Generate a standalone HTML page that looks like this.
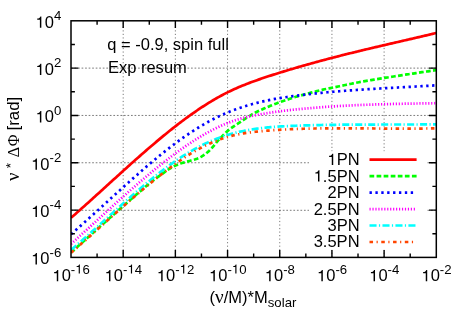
<!DOCTYPE html>
<html><head><meta charset="utf-8"><title>plot</title>
<style>html,body{margin:0;padding:0;background:#fff;overflow:hidden}body{width:466px;height:327px;position:relative;font-family:"Liberation Sans",sans-serif}</style>
</head><body>
<svg width="466" height="327" viewBox="0 0 466 327" style="position:absolute;left:0;top:0;will-change:transform">
<rect width="466" height="327" fill="#fff"/>
<path d="M123.19,257.4 V20.8 M175.37,257.4 V20.8 M227.56,257.4 V20.8 M279.74,257.4 V20.8 M331.93,257.4 V20.8 M384.11,257.4 V20.8" stroke="#222" stroke-width="0.6" stroke-dasharray="1.2 2.33" fill="none"/>
<path d="M71.0,210.30 H436.3 M71.0,162.76 H436.3 M71.0,115.44 H436.3 M71.0,68.12 H436.3" stroke="#222" stroke-width="0.6" stroke-dasharray="1.7 1.83" fill="none"/>
<clipPath id="cp"><rect x="71.0" y="20.8" width="365.3" height="236.59999999999997"/></clipPath>
<g clip-path="url(#cp)" fill="none" stroke-width="2.7">
<path d="M71.00,217.83 L72.50,216.52 L74.00,215.21 L75.50,213.89 L77.00,212.57 L78.50,211.25 L80.00,209.92 L81.50,208.59 L83.00,207.25 L84.50,205.91 L86.00,204.57 L87.50,203.23 L89.00,201.88 L90.50,200.53 L92.00,199.18 L93.50,197.82 L95.00,196.47 L96.50,195.11 L98.00,193.75 L99.50,192.39 L101.00,191.03 L102.50,189.66 L104.00,188.30 L105.50,186.94 L107.00,185.57 L108.50,184.21 L110.00,182.84 L111.50,181.48 L113.00,180.12 L114.50,178.75 L116.00,177.39 L117.50,176.03 L119.00,174.67 L120.50,173.31 L122.00,171.95 L123.50,170.60 L125.00,169.25 L126.50,167.90 L128.00,166.55 L129.50,165.20 L131.00,163.86 L132.50,162.52 L134.00,161.18 L135.50,159.85 L137.00,158.52 L138.50,157.19 L140.00,155.87 L141.50,154.55 L143.00,153.24 L144.50,151.93 L146.00,150.63 L147.50,149.33 L149.00,148.03 L150.50,146.74 L152.00,145.46 L153.50,144.18 L155.00,142.91 L156.50,141.64 L158.00,140.39 L159.50,139.13 L161.00,137.89 L162.50,136.65 L164.00,135.41 L165.50,134.19 L167.00,132.97 L168.50,131.76 L170.00,130.56 L171.50,129.37 L173.00,128.18 L174.50,127.00 L176.00,125.84 L177.50,124.68 L179.00,123.53 L180.50,122.38 L182.00,121.25 L183.50,120.13 L185.00,119.02 L186.50,117.91 L188.00,116.82 L189.50,115.74 L191.00,114.67 L192.50,113.61 L194.00,112.56 L195.50,111.52 L197.00,110.49 L198.50,109.48 L200.00,108.47 L201.50,107.48 L203.00,106.50 L204.50,105.54 L206.00,104.58 L207.50,103.64 L209.00,102.71 L210.50,101.79 L212.00,100.89 L213.50,100.00 L215.00,99.13 L216.50,98.27 L218.00,97.42 L219.50,96.59 L221.00,95.77 L222.50,94.96 L224.00,94.17 L225.50,93.40 L227.00,92.64 L228.50,91.90 L230.00,91.17 L231.50,90.46 L233.00,89.76 L234.50,89.07 L236.00,88.40 L237.50,87.74 L239.00,87.10 L240.50,86.46 L242.00,85.84 L243.50,85.23 L245.00,84.63 L246.50,84.04 L248.00,83.45 L249.50,82.88 L251.00,82.32 L252.50,81.76 L254.00,81.22 L255.50,80.68 L257.00,80.15 L258.50,79.62 L260.00,79.10 L261.50,78.59 L263.00,78.08 L264.50,77.57 L266.00,77.08 L267.50,76.58 L269.00,76.09 L270.50,75.61 L272.00,75.13 L273.50,74.65 L275.00,74.17 L276.50,73.70 L278.00,73.23 L279.50,72.77 L281.00,72.30 L282.50,71.84 L284.00,71.38 L285.50,70.93 L287.00,70.47 L288.50,70.02 L290.00,69.57 L291.50,69.12 L293.00,68.68 L294.50,68.24 L296.00,67.80 L297.50,67.36 L299.00,66.92 L300.50,66.49 L302.00,66.06 L303.50,65.63 L305.00,65.20 L306.50,64.78 L308.00,64.35 L309.50,63.93 L311.00,63.51 L312.50,63.10 L314.00,62.68 L315.50,62.27 L317.00,61.86 L318.50,61.45 L320.00,61.04 L321.50,60.64 L323.00,60.24 L324.50,59.84 L326.00,59.44 L327.50,59.04 L329.00,58.65 L330.50,58.25 L332.00,57.86 L333.50,57.47 L335.00,57.09 L336.50,56.70 L338.00,56.32 L339.50,55.94 L341.00,55.56 L342.50,55.18 L344.00,54.80 L345.50,54.43 L347.00,54.05 L348.50,53.68 L350.00,53.31 L351.50,52.94 L353.00,52.57 L354.50,52.20 L356.00,51.84 L357.50,51.47 L359.00,51.11 L360.50,50.75 L362.00,50.39 L363.50,50.03 L365.00,49.67 L366.50,49.31 L368.00,48.95 L369.50,48.60 L371.00,48.24 L372.50,47.89 L374.00,47.54 L375.50,47.18 L377.00,46.83 L378.50,46.48 L380.00,46.13 L381.50,45.78 L383.00,45.43 L384.50,45.08 L386.00,44.73 L387.50,44.38 L389.00,44.03 L390.50,43.68 L392.00,43.34 L393.50,42.99 L395.00,42.64 L396.50,42.29 L398.00,41.95 L399.50,41.60 L401.00,41.25 L402.50,40.91 L404.00,40.56 L405.50,40.21 L407.00,39.86 L408.50,39.52 L410.00,39.17 L411.50,38.82 L413.00,38.47 L414.50,38.12 L416.00,37.77 L417.50,37.42 L419.00,37.07 L420.50,36.72 L422.00,36.37 L423.50,36.02 L425.00,35.67 L426.50,35.32 L428.00,34.96 L429.50,34.61 L431.00,34.25 L432.50,33.89 L434.00,33.54 L436.30,32.99" stroke="#ff0000"/>
<path d="M71.00,252.60 L72.50,251.24 L74.00,249.88 L75.50,248.52 L77.00,247.17 L78.50,245.81 L80.00,244.46 L81.50,243.11 L83.00,241.76 L84.50,240.41 L86.00,239.07 L87.50,237.72 L89.00,236.38 L90.50,235.04 L92.00,233.70 L93.50,232.36 L95.00,231.02 L96.50,229.68 L98.00,228.35 L99.50,227.01 L101.00,225.68 L102.50,224.35 L104.00,223.02 L105.50,221.69 L107.00,220.36 L108.50,219.04 L110.00,217.71 L111.50,216.39 L113.00,215.07 L114.50,213.75 L116.00,212.42 L117.50,211.11 L119.00,209.79 L120.50,208.47 L122.00,207.15 L123.50,205.84 L125.00,204.52 L126.50,203.20 L128.00,201.88 L129.50,200.56 L131.00,199.24 L132.50,197.92 L134.00,196.61 L135.50,195.30 L137.00,193.99 L138.50,192.70 L140.00,191.40 L141.50,190.12 L143.00,188.85 L144.50,187.58 L146.00,186.33 L147.50,185.09 L149.00,183.85 L150.50,182.63 L152.00,181.42 L153.50,180.24 L155.00,179.08 L156.50,177.95 L158.00,176.87 L159.50,175.80 L161.00,174.75 L162.50,173.69 L164.00,172.63 L165.50,171.53 L167.00,170.44 L168.50,169.40 L170.00,168.46 L171.50,167.59 L173.00,166.77 L174.50,166.02 L176.00,165.34 L177.50,164.70 L179.00,164.12 L180.50,163.57 L182.00,163.06 L183.50,162.59 L185.00,162.17 L186.50,161.78 L188.00,161.40 L189.50,161.00 L191.00,160.57 L192.50,160.15 L194.00,159.70 L195.50,159.20 L197.00,158.65 L198.50,158.04 L200.00,157.36 L201.50,156.60 L203.00,155.71 L204.50,154.67 L206.00,153.53 L207.50,152.30 L209.00,150.95 L210.50,149.46 L212.00,147.86 L213.50,146.15 L215.00,144.27 L216.50,142.39 L218.00,140.67 L219.50,139.03 L221.00,137.44 L222.50,135.89 L224.00,134.35 L225.50,132.84 L227.00,131.44 L228.50,130.17 L230.00,129.00 L231.50,127.91 L233.00,126.85 L234.50,125.86 L236.00,124.90 L237.50,123.95 L239.00,122.97 L240.50,121.97 L242.00,120.96 L243.50,119.97 L245.00,118.97 L246.50,117.97 L248.00,116.98 L249.50,116.02 L251.00,115.10 L252.50,114.21 L254.00,113.35 L255.50,112.52 L257.00,111.75 L258.50,111.02 L260.00,110.32 L261.50,109.65 L263.00,108.98 L264.50,108.31 L266.00,107.66 L267.50,107.02 L269.00,106.39 L270.50,105.79 L272.00,105.19 L273.50,104.60 L275.00,104.02 L276.50,103.43 L278.00,102.84 L279.50,102.27 L281.00,101.75 L282.50,101.24 L284.00,100.76 L285.50,100.28 L287.00,99.80 L288.50,99.30 L290.00,98.78 L291.50,98.26 L293.00,97.74 L294.50,97.25 L296.00,96.80 L297.50,96.38 L299.00,95.97 L300.50,95.57 L302.00,95.17 L303.50,94.75 L305.00,94.32 L306.50,93.89 L308.00,93.46 L309.50,93.06 L311.00,92.66 L312.50,92.27 L314.00,91.88 L315.50,91.50 L317.00,91.11 L318.50,90.73 L320.00,90.35 L321.50,89.98 L323.00,89.63 L324.50,89.30 L326.00,88.99 L327.50,88.68 L329.00,88.38 L330.50,88.08 L332.00,87.78 L333.50,87.47 L335.00,87.16 L336.50,86.85 L338.00,86.53 L339.50,86.22 L341.00,85.90 L342.50,85.59 L344.00,85.27 L345.50,84.96 L347.00,84.65 L348.50,84.34 L350.00,84.03 L351.50,83.72 L353.00,83.41 L354.50,83.11 L356.00,82.81 L357.50,82.52 L359.00,82.23 L360.50,81.95 L362.00,81.66 L363.50,81.39 L365.00,81.12 L366.50,80.86 L368.00,80.60 L369.50,80.35 L371.00,80.10 L372.50,79.85 L374.00,79.61 L375.50,79.37 L377.00,79.13 L378.50,78.89 L380.00,78.65 L381.50,78.41 L383.00,78.18 L384.50,77.94 L386.00,77.70 L387.50,77.46 L389.00,77.22 L390.50,76.99 L392.00,76.75 L393.50,76.52 L395.00,76.28 L396.50,76.05 L398.00,75.82 L399.50,75.59 L401.00,75.36 L402.50,75.13 L404.00,74.90 L405.50,74.67 L407.00,74.44 L408.50,74.22 L410.00,73.99 L411.50,73.76 L413.00,73.54 L414.50,73.31 L416.00,73.09 L417.50,72.86 L419.00,72.64 L420.50,72.41 L422.00,72.19 L423.50,71.97 L425.00,71.75 L426.50,71.53 L428.00,71.31 L429.50,71.09 L431.00,70.87 L432.50,70.65 L434.00,70.43 L436.30,70.10" stroke="#00ff00" stroke-dasharray="4.71 2.36"/>
<path d="M71.00,234.26 L72.50,232.96 L74.00,231.65 L75.50,230.34 L77.00,229.02 L78.50,227.70 L80.00,226.37 L81.50,225.04 L83.00,223.70 L84.50,222.36 L86.00,221.02 L87.50,219.67 L89.00,218.32 L90.50,216.97 L92.00,215.61 L93.50,214.26 L95.00,212.90 L96.50,211.53 L98.00,210.17 L99.50,208.80 L101.00,207.44 L102.50,206.07 L104.00,204.70 L105.50,203.33 L107.00,201.96 L108.50,200.59 L110.00,199.23 L111.50,197.86 L113.00,196.49 L114.50,195.12 L116.00,193.76 L117.50,192.39 L119.00,191.03 L120.50,189.67 L122.00,188.31 L123.50,186.95 L125.00,185.60 L126.50,184.25 L128.00,182.90 L129.50,181.56 L131.00,180.22 L132.50,178.88 L134.00,177.55 L135.50,176.22 L137.00,174.90 L138.50,173.58 L140.00,172.26 L141.50,170.95 L143.00,169.65 L144.50,168.35 L146.00,167.06 L147.50,165.77 L149.00,164.50 L150.50,163.22 L152.00,161.96 L153.50,160.70 L155.00,159.45 L156.50,158.21 L158.00,156.97 L159.50,155.74 L161.00,154.53 L162.50,153.32 L164.00,152.12 L165.50,150.92 L167.00,149.74 L168.50,148.57 L170.00,147.40 L171.50,146.25 L173.00,145.11 L174.50,143.98 L176.00,142.86 L177.50,141.75 L179.00,140.65 L180.50,139.56 L182.00,138.48 L183.50,137.42 L185.00,136.37 L186.50,135.33 L188.00,134.30 L189.50,133.29 L191.00,132.29 L192.50,131.30 L194.00,130.33 L195.50,129.37 L197.00,128.43 L198.50,127.50 L200.00,126.58 L201.50,125.68 L203.00,124.79 L204.50,123.92 L206.00,123.07 L207.50,122.23 L209.00,121.41 L210.50,120.60 L212.00,119.81 L213.50,119.04 L215.00,118.28 L216.50,117.54 L218.00,116.81 L219.50,116.10 L221.00,115.41 L222.50,114.73 L224.00,114.06 L225.50,113.41 L227.00,112.78 L228.50,112.15 L230.00,111.55 L231.50,110.95 L233.00,110.38 L234.50,109.81 L236.00,109.26 L237.50,108.72 L239.00,108.19 L240.50,107.68 L242.00,107.18 L243.50,106.69 L245.00,106.22 L246.50,105.75 L248.00,105.30 L249.50,104.86 L251.00,104.43 L252.50,104.01 L254.00,103.61 L255.50,103.21 L257.00,102.83 L258.50,102.45 L260.00,102.09 L261.50,101.74 L263.00,101.39 L264.50,101.06 L266.00,100.73 L267.50,100.41 L269.00,100.10 L270.50,99.80 L272.00,99.51 L273.50,99.23 L275.00,98.95 L276.50,98.68 L278.00,98.42 L279.50,98.16 L281.00,97.92 L282.50,97.67 L284.00,97.44 L285.50,97.21 L287.00,96.98 L288.50,96.76 L290.00,96.55 L291.50,96.34 L293.00,96.13 L294.50,95.93 L296.00,95.73 L297.50,95.54 L299.00,95.35 L300.50,95.16 L302.00,94.98 L303.50,94.80 L305.00,94.62 L306.50,94.44 L308.00,94.27 L309.50,94.10 L311.00,93.93 L312.50,93.77 L314.00,93.61 L315.50,93.45 L317.00,93.30 L318.50,93.14 L320.00,92.99 L321.50,92.84 L323.00,92.70 L324.50,92.55 L326.00,92.41 L327.50,92.27 L329.00,92.14 L330.50,92.00 L332.00,91.87 L333.50,91.74 L335.00,91.61 L336.50,91.49 L338.00,91.36 L339.50,91.24 L341.00,91.12 L342.50,91.00 L344.00,90.88 L345.50,90.77 L347.00,90.65 L348.50,90.54 L350.00,90.43 L351.50,90.32 L353.00,90.22 L354.50,90.11 L356.00,90.01 L357.50,89.91 L359.00,89.80 L360.50,89.70 L362.00,89.61 L363.50,89.51 L365.00,89.41 L366.50,89.32 L368.00,89.22 L369.50,89.13 L371.00,89.04 L372.50,88.95 L374.00,88.86 L375.50,88.77 L377.00,88.68 L378.50,88.59 L380.00,88.50 L381.50,88.42 L383.00,88.33 L384.50,88.24 L386.00,88.16 L387.50,88.08 L389.00,87.99 L390.50,87.91 L392.00,87.82 L393.50,87.74 L395.00,87.66 L396.50,87.58 L398.00,87.50 L399.50,87.41 L401.00,87.33 L402.50,87.25 L404.00,87.17 L405.50,87.09 L407.00,87.00 L408.50,86.92 L410.00,86.84 L411.50,86.76 L413.00,86.67 L414.50,86.59 L416.00,86.51 L417.50,86.42 L419.00,86.34 L420.50,86.25 L422.00,86.17 L423.50,86.08 L425.00,86.00 L426.50,85.91 L428.00,85.82 L429.50,85.73 L431.00,85.64 L432.50,85.55 L434.00,85.46 L436.30,85.32" stroke="#0000ff" stroke-dasharray="2.36 3.53"/>
<path d="M71.00,244.01 L72.50,242.66 L74.00,241.31 L75.50,239.95 L77.00,238.59 L78.50,237.23 L80.00,235.87 L81.50,234.51 L83.00,233.14 L84.50,231.77 L86.00,230.41 L87.50,229.04 L89.00,227.67 L90.50,226.30 L92.00,224.93 L93.50,223.55 L95.00,222.18 L96.50,220.81 L98.00,219.44 L99.50,218.07 L101.00,216.70 L102.50,215.33 L104.00,213.96 L105.50,212.60 L107.00,211.23 L108.50,209.87 L110.00,208.51 L111.50,207.15 L113.00,205.79 L114.50,204.43 L116.00,203.08 L117.50,201.73 L119.00,200.38 L120.50,199.04 L122.00,197.69 L123.50,196.36 L125.00,195.02 L126.50,193.69 L128.00,192.36 L129.50,191.04 L131.00,189.72 L132.50,188.40 L134.00,187.09 L135.50,185.79 L137.00,184.49 L138.50,183.19 L140.00,181.90 L141.50,180.62 L143.00,179.34 L144.50,178.07 L146.00,176.80 L147.50,175.54 L149.00,174.29 L150.50,173.04 L152.00,171.80 L153.50,170.57 L155.00,169.34 L156.50,168.12 L158.00,166.91 L159.50,165.71 L161.00,164.51 L162.50,163.32 L164.00,162.14 L165.50,160.97 L167.00,159.81 L168.50,158.65 L170.00,157.51 L171.50,156.37 L173.00,155.25 L174.50,154.13 L176.00,153.02 L177.50,151.93 L179.00,150.84 L180.50,149.77 L182.00,148.71 L183.50,147.65 L185.00,146.61 L186.50,145.59 L188.00,144.57 L189.50,143.57 L191.00,142.58 L192.50,141.60 L194.00,140.63 L195.50,139.68 L197.00,138.75 L198.50,137.82 L200.00,136.91 L201.50,136.02 L203.00,135.14 L204.50,134.27 L206.00,133.42 L207.50,132.59 L209.00,131.77 L210.50,130.97 L212.00,130.18 L213.50,129.42 L215.00,128.66 L216.50,127.93 L218.00,127.21 L219.50,126.51 L221.00,125.83 L222.50,125.16 L224.00,124.51 L225.50,123.89 L227.00,123.28 L228.50,122.69 L230.00,122.12 L231.50,121.56 L233.00,121.03 L234.50,120.52 L236.00,120.03 L237.50,119.56 L239.00,119.11 L240.50,118.67 L242.00,118.26 L243.50,117.86 L245.00,117.48 L246.50,117.12 L248.00,116.76 L249.50,116.43 L251.00,116.10 L252.50,115.78 L254.00,115.48 L255.50,115.18 L257.00,114.89 L258.50,114.61 L260.00,114.33 L261.50,114.07 L263.00,113.81 L264.50,113.55 L266.00,113.30 L267.50,113.06 L269.00,112.83 L270.50,112.60 L272.00,112.37 L273.50,112.15 L275.00,111.94 L276.50,111.73 L278.00,111.53 L279.50,111.33 L281.00,111.14 L282.50,110.95 L284.00,110.77 L285.50,110.59 L287.00,110.41 L288.50,110.24 L290.00,110.07 L291.50,109.91 L293.00,109.75 L294.50,109.59 L296.00,109.44 L297.50,109.29 L299.00,109.14 L300.50,108.99 L302.00,108.85 L303.50,108.71 L305.00,108.57 L306.50,108.44 L308.00,108.31 L309.50,108.18 L311.00,108.05 L312.50,107.92 L314.00,107.80 L315.50,107.68 L317.00,107.56 L318.50,107.44 L320.00,107.33 L321.50,107.22 L323.00,107.11 L324.50,107.00 L326.00,106.90 L327.50,106.79 L329.00,106.69 L330.50,106.59 L332.00,106.50 L333.50,106.40 L335.00,106.31 L336.50,106.22 L338.00,106.13 L339.50,106.04 L341.00,105.96 L342.50,105.87 L344.00,105.79 L345.50,105.71 L347.00,105.64 L348.50,105.56 L350.00,105.49 L351.50,105.41 L353.00,105.34 L354.50,105.27 L356.00,105.21 L357.50,105.14 L359.00,105.07 L360.50,105.01 L362.00,104.95 L363.50,104.89 L365.00,104.83 L366.50,104.77 L368.00,104.72 L369.50,104.66 L371.00,104.61 L372.50,104.56 L374.00,104.51 L375.50,104.46 L377.00,104.41 L378.50,104.36 L380.00,104.32 L381.50,104.27 L383.00,104.23 L384.50,104.19 L386.00,104.15 L387.50,104.11 L389.00,104.07 L390.50,104.03 L392.00,103.99 L393.50,103.96 L395.00,103.92 L396.50,103.89 L398.00,103.86 L399.50,103.82 L401.00,103.79 L402.50,103.76 L404.00,103.73 L405.50,103.70 L407.00,103.67 L408.50,103.64 L410.00,103.62 L411.50,103.59 L413.00,103.56 L414.50,103.54 L416.00,103.51 L417.50,103.49 L419.00,103.46 L420.50,103.44 L422.00,103.42 L423.50,103.39 L425.00,103.37 L426.50,103.35 L428.00,103.33 L429.50,103.31 L431.00,103.28 L432.50,103.26 L434.00,103.24 L436.30,103.21" stroke="#ff00ff" stroke-dasharray="1.18 1.77"/>
<path d="M71.00,250.00 L72.50,248.72 L74.00,247.44 L75.50,246.15 L77.00,244.86 L78.50,243.56 L80.00,242.25 L81.50,240.94 L83.00,239.62 L84.50,238.30 L86.00,236.97 L87.50,235.64 L89.00,234.31 L90.50,232.97 L92.00,231.63 L93.50,230.28 L95.00,228.93 L96.50,227.58 L98.00,226.23 L99.50,224.88 L101.00,223.52 L102.50,222.16 L104.00,220.81 L105.50,219.45 L107.00,218.09 L108.50,216.73 L110.00,215.37 L111.50,214.01 L113.00,212.66 L114.50,211.30 L116.00,209.95 L117.50,208.60 L119.00,207.25 L120.50,205.90 L122.00,204.56 L123.50,203.21 L125.00,201.88 L126.50,200.54 L128.00,199.21 L129.50,197.89 L131.00,196.57 L132.50,195.25 L134.00,193.94 L135.50,192.64 L137.00,191.34 L138.50,190.05 L140.00,188.76 L141.50,187.48 L143.00,186.21 L144.50,184.95 L146.00,183.69 L147.50,182.44 L149.00,181.20 L150.50,179.97 L152.00,178.75 L153.50,177.54 L155.00,176.34 L156.50,175.15 L158.00,173.96 L159.50,172.79 L161.00,171.63 L162.50,170.48 L164.00,169.35 L165.50,168.22 L167.00,167.11 L168.50,166.01 L170.00,164.92 L171.50,163.84 L173.00,162.78 L174.50,161.73 L176.00,160.70 L177.50,159.68 L179.00,158.68 L180.50,157.69 L182.00,156.71 L183.50,155.75 L185.00,154.81 L186.50,153.88 L188.00,152.97 L189.50,152.07 L191.00,151.19 L192.50,150.32 L194.00,149.47 L195.50,148.64 L197.00,147.83 L198.50,147.03 L200.00,146.25 L201.50,145.49 L203.00,144.74 L204.50,144.01 L206.00,143.31 L207.50,142.61 L209.00,141.94 L210.50,141.28 L212.00,140.64 L213.50,140.02 L215.00,139.41 L216.50,138.82 L218.00,138.25 L219.50,137.69 L221.00,137.15 L222.50,136.63 L224.00,136.13 L225.50,135.64 L227.00,135.16 L228.50,134.71 L230.00,134.26 L231.50,133.84 L233.00,133.43 L234.50,133.03 L236.00,132.65 L237.50,132.28 L239.00,131.93 L240.50,131.59 L242.00,131.26 L243.50,130.95 L245.00,130.65 L246.50,130.36 L248.00,130.09 L249.50,129.82 L251.00,129.57 L252.50,129.33 L254.00,129.10 L255.50,128.88 L257.00,128.67 L258.50,128.47 L260.00,128.28 L261.50,128.09 L263.00,127.92 L264.50,127.76 L266.00,127.60 L267.50,127.45 L269.00,127.31 L270.50,127.18 L272.00,127.05 L273.50,126.94 L275.00,126.82 L276.50,126.72 L278.00,126.61 L279.50,126.52 L281.00,126.43 L282.50,126.34 L284.00,126.26 L285.50,126.18 L287.00,126.11 L288.50,126.04 L290.00,125.97 L291.50,125.91 L293.00,125.85 L294.50,125.79 L296.00,125.73 L297.50,125.67 L299.00,125.62 L300.50,125.57 L302.00,125.52 L303.50,125.47 L305.00,125.42 L306.50,125.38 L308.00,125.33 L309.50,125.29 L311.00,125.25 L312.50,125.21 L314.00,125.17 L315.50,125.13 L317.00,125.10 L318.50,125.07 L320.00,125.03 L321.50,125.00 L323.00,124.97 L324.50,124.94 L326.00,124.92 L327.50,124.89 L329.00,124.87 L330.50,124.84 L332.00,124.82 L333.50,124.80 L335.00,124.78 L336.50,124.76 L338.00,124.74 L339.50,124.72 L341.00,124.71 L342.50,124.69 L344.00,124.68 L345.50,124.66 L347.00,124.65 L348.50,124.64 L350.00,124.63 L351.50,124.62 L353.00,124.61 L354.50,124.60 L356.00,124.59 L357.50,124.58 L359.00,124.57 L360.50,124.57 L362.00,124.56 L363.50,124.56 L365.00,124.55 L366.50,124.55 L368.00,124.54 L369.50,124.54 L371.00,124.54 L372.50,124.53 L374.00,124.53 L375.50,124.53 L377.00,124.53 L378.50,124.53 L380.00,124.52 L381.50,124.52 L383.00,124.52 L384.50,124.52 L386.00,124.52 L387.50,124.52 L389.00,124.52 L390.50,124.52 L392.00,124.52 L393.50,124.52 L395.00,124.52 L396.50,124.52 L398.00,124.52 L399.50,124.51 L401.00,124.51 L402.50,124.51 L404.00,124.51 L405.50,124.51 L407.00,124.51 L408.50,124.50 L410.00,124.50 L411.50,124.50 L413.00,124.49 L414.50,124.49 L416.00,124.49 L417.50,124.48 L419.00,124.48 L420.50,124.47 L422.00,124.46 L423.50,124.46 L425.00,124.45 L426.50,124.44 L428.00,124.43 L429.50,124.42 L431.00,124.41 L432.50,124.40 L434.00,124.39 L436.30,124.37" stroke="#00ffff" stroke-dasharray="7.07 2.36 1.18 2.36"/>
<path d="M71.00,252.79 L72.50,251.49 L74.00,250.18 L75.50,248.88 L77.00,247.57 L78.50,246.25 L80.00,244.93 L81.50,243.61 L83.00,242.29 L84.50,240.96 L86.00,239.63 L87.50,238.30 L89.00,236.96 L90.50,235.63 L92.00,234.29 L93.50,232.95 L95.00,231.61 L96.50,230.27 L98.00,228.92 L99.50,227.58 L101.00,226.23 L102.50,224.89 L104.00,223.55 L105.50,222.20 L107.00,220.86 L108.50,219.52 L110.00,218.17 L111.50,216.83 L113.00,215.49 L114.50,214.16 L116.00,212.82 L117.50,211.49 L119.00,210.15 L120.50,208.82 L122.00,207.50 L123.50,206.17 L125.00,204.85 L126.50,203.54 L128.00,202.22 L129.50,200.91 L131.00,199.60 L132.50,198.30 L134.00,197.00 L135.50,195.71 L137.00,194.42 L138.50,193.14 L140.00,191.86 L141.50,190.59 L143.00,189.32 L144.50,188.06 L146.00,186.81 L147.50,185.56 L149.00,184.32 L150.50,183.08 L152.00,181.85 L153.50,180.63 L155.00,179.42 L156.50,178.22 L158.00,177.02 L159.50,175.83 L161.00,174.65 L162.50,173.48 L164.00,172.31 L165.50,171.16 L167.00,170.01 L168.50,168.88 L170.00,167.75 L171.50,166.64 L173.00,165.54 L174.50,164.46 L176.00,163.38 L177.50,162.32 L179.00,161.27 L180.50,160.24 L182.00,159.23 L183.50,158.23 L185.00,157.24 L186.50,156.28 L188.00,155.32 L189.50,154.39 L191.00,153.47 L192.50,152.57 L194.00,151.69 L195.50,150.83 L197.00,149.98 L198.50,149.15 L200.00,148.34 L201.50,147.54 L203.00,146.77 L204.50,146.02 L206.00,145.28 L207.50,144.56 L209.00,143.87 L210.50,143.19 L212.00,142.53 L213.50,141.89 L215.00,141.28 L216.50,140.68 L218.00,140.10 L219.50,139.55 L221.00,139.02 L222.50,138.50 L224.00,138.01 L225.50,137.55 L227.00,137.10 L228.50,136.67 L230.00,136.26 L231.50,135.88 L233.00,135.51 L234.50,135.15 L236.00,134.82 L237.50,134.50 L239.00,134.20 L240.50,133.91 L242.00,133.64 L243.50,133.39 L245.00,133.14 L246.50,132.91 L248.00,132.69 L249.50,132.48 L251.00,132.29 L252.50,132.10 L254.00,131.92 L255.50,131.75 L257.00,131.59 L258.50,131.44 L260.00,131.29 L261.50,131.15 L263.00,131.02 L264.50,130.89 L266.00,130.77 L267.50,130.65 L269.00,130.53 L270.50,130.42 L272.00,130.31 L273.50,130.20 L275.00,130.10 L276.50,130.00 L278.00,129.90 L279.50,129.81 L281.00,129.72 L282.50,129.64 L284.00,129.56 L285.50,129.48 L287.00,129.40 L288.50,129.33 L290.00,129.26 L291.50,129.19 L293.00,129.13 L294.50,129.07 L296.00,129.01 L297.50,128.95 L299.00,128.90 L300.50,128.85 L302.00,128.80 L303.50,128.76 L305.00,128.72 L306.50,128.68 L308.00,128.64 L309.50,128.60 L311.00,128.57 L312.50,128.54 L314.00,128.51 L315.50,128.48 L317.00,128.46 L318.50,128.43 L320.00,128.41 L321.50,128.39 L323.00,128.38 L324.50,128.36 L326.00,128.35 L327.50,128.34 L329.00,128.32 L330.50,128.32 L332.00,128.31 L333.50,128.30 L335.00,128.30 L336.50,128.29 L338.00,128.29 L339.50,128.29 L341.00,128.29 L342.50,128.29 L344.00,128.30 L345.50,128.30 L347.00,128.30 L348.50,128.31 L350.00,128.32 L351.50,128.32 L353.00,128.33 L354.50,128.34 L356.00,128.35 L357.50,128.36 L359.00,128.37 L360.50,128.38 L362.00,128.39 L363.50,128.40 L365.00,128.41 L366.50,128.42 L368.00,128.44 L369.50,128.45 L371.00,128.46 L372.50,128.47 L374.00,128.49 L375.50,128.50 L377.00,128.51 L378.50,128.52 L380.00,128.53 L381.50,128.55 L383.00,128.56 L384.50,128.57 L386.00,128.58 L387.50,128.59 L389.00,128.60 L390.50,128.61 L392.00,128.61 L393.50,128.62 L395.00,128.63 L396.50,128.63 L398.00,128.64 L399.50,128.64 L401.00,128.64 L402.50,128.64 L404.00,128.65 L405.50,128.64 L407.00,128.64 L408.50,128.64 L410.00,128.64 L411.50,128.63 L413.00,128.62 L414.50,128.61 L416.00,128.60 L417.50,128.59 L419.00,128.58 L420.50,128.56 L422.00,128.55 L423.50,128.53 L425.00,128.51 L426.50,128.48 L428.00,128.46 L429.50,128.43 L431.00,128.40 L432.50,128.37 L434.00,128.34 L436.30,128.28" stroke="#ff4500" stroke-dasharray="3.53 3.53 1.18 3.53"/>
</g>
<rect x="309" y="151.3" width="117.3" height="98.5" fill="#fff"/>
<path d="M97.09,257.4 v-3.9 M97.09,20.8 v3.9 M123.19,257.4 v-7.3 M123.19,20.8 v7.3 M149.28,257.4 v-3.9 M149.28,20.8 v3.9 M175.37,257.4 v-7.3 M175.37,20.8 v7.3 M201.46,257.4 v-3.9 M201.46,20.8 v3.9 M227.56,257.4 v-7.3 M227.56,20.8 v7.3 M253.65,257.4 v-3.9 M253.65,20.8 v3.9 M279.74,257.4 v-7.3 M279.74,20.8 v7.3 M305.84,257.4 v-3.9 M305.84,20.8 v3.9 M331.93,257.4 v-7.3 M331.93,20.8 v7.3 M358.02,257.4 v-3.9 M358.02,20.8 v3.9 M384.11,257.4 v-7.3 M384.11,20.8 v7.3 M410.21,257.4 v-3.9 M410.21,20.8 v3.9 M71.0,233.74 h3.9 M436.3,233.74 h-3.9 M71.0,210.08 h7.3 M436.3,210.08 h-7.3 M71.0,186.42 h3.9 M436.3,186.42 h-3.9 M71.0,162.76 h7.3 M436.3,162.76 h-7.3 M71.0,139.10 h3.9 M436.3,139.10 h-3.9 M71.0,115.44 h7.3 M436.3,115.44 h-7.3 M71.0,91.78 h3.9 M436.3,91.78 h-3.9 M71.0,68.12 h7.3 M436.3,68.12 h-7.3 M71.0,44.46 h3.9 M436.3,44.46 h-3.9" stroke="#000" stroke-width="1.4" fill="none"/>
<rect x="71.0" y="20.8" width="365.3" height="236.59999999999997" fill="none" stroke="#000" stroke-width="1.5"/>
<g fill="none" stroke-width="2.7">
<path d="M369.5,159.6 H416.6" stroke="#ff0000"/>
<path d="M369.5,176.2 H416.6" stroke="#00ff00" stroke-dasharray="4.71 2.36"/>
<path d="M369.5,192.7 H416.6" stroke="#0000ff" stroke-dasharray="2.36 3.53"/>
<path d="M369.5,209.1 H416.6" stroke="#ff00ff" stroke-dasharray="1.18 1.77"/>
<path d="M369.5,225.5 H416.6" stroke="#00ffff" stroke-dasharray="7.07 2.36 1.18 2.36"/>
<path d="M369.5,242.0 H416.6" stroke="#ff4500" stroke-dasharray="3.53 3.53 1.18 3.53"/>
</g>
<g font-family="Liberation Sans, sans-serif" font-size="16" fill="#000">
<g transform="translate(359.6,165.0) scale(1.033,1)"><path transform="translate(-31.13,0) scale(0.01600)" d="M350,-709 L293,-709 C272,-625 215,-588 102,-574 L102,-507 L262,-507 L262,0 L350,0 Z"/><text x="-22.23" y="0" font-size="16">PN</text></g>
<g transform="translate(359.6,181.6) scale(1.033,1)"><path transform="translate(-44.47,0) scale(0.01600)" d="M350,-709 L293,-709 C272,-625 215,-588 102,-574 L102,-507 L262,-507 L262,0 L350,0 Z"/><text x="-35.57" y="0" font-size="16">.5PN</text></g>
<g transform="translate(359.6,198.1) scale(1.033,1)"><text x="-31.13" y="0" font-size="16">2PN</text></g>
<g transform="translate(359.6,214.5) scale(1.033,1)"><text x="-44.47" y="0" font-size="16">2.5PN</text></g>
<g transform="translate(359.6,230.9) scale(1.033,1)"><text x="-31.13" y="0" font-size="16">3PN</text></g>
<g transform="translate(359.6,247.4) scale(1.033,1)"><text x="-44.47" y="0" font-size="16">3.5PN</text></g>
<text transform="translate(107.2,49.8) scale(1.033,1)">q = -0.9, spin full</text>
<text transform="translate(107.9,72.6) scale(1.033,1)">Exp resum</text>
<g transform="translate(61.3,264.4) scale(1.033,1)"><path transform="translate(-29.18,0) scale(0.01600)" d="M350,-709 L293,-709 C272,-625 215,-588 102,-574 L102,-507 L262,-507 L262,0 L350,0 Z"/><text x="-20.28" y="0" font-size="16">0</text><text x="-11.38" y="-7.7" font-size="12.8">-6</text></g>
<g transform="translate(61.3,217.1) scale(1.033,1)"><path transform="translate(-29.18,0) scale(0.01600)" d="M350,-709 L293,-709 C272,-625 215,-588 102,-574 L102,-507 L262,-507 L262,0 L350,0 Z"/><text x="-20.28" y="0" font-size="16">0</text><text x="-11.38" y="-7.7" font-size="12.8">-4</text></g>
<g transform="translate(61.3,169.8) scale(1.033,1)"><path transform="translate(-29.18,0) scale(0.01600)" d="M350,-709 L293,-709 C272,-625 215,-588 102,-574 L102,-507 L262,-507 L262,0 L350,0 Z"/><text x="-20.28" y="0" font-size="16">0</text><text x="-11.38" y="-7.7" font-size="12.8">-2</text></g>
<g transform="translate(61.3,122.4) scale(1.033,1)"><path transform="translate(-24.92,0) scale(0.01600)" d="M350,-709 L293,-709 C272,-625 215,-588 102,-574 L102,-507 L262,-507 L262,0 L350,0 Z"/><text x="-16.02" y="0" font-size="16">0</text><text x="-7.12" y="-7.7" font-size="12.8">0</text></g>
<g transform="translate(61.3,75.1) scale(1.033,1)"><path transform="translate(-24.92,0) scale(0.01600)" d="M350,-709 L293,-709 C272,-625 215,-588 102,-574 L102,-507 L262,-507 L262,0 L350,0 Z"/><text x="-16.02" y="0" font-size="16">0</text><text x="-7.12" y="-7.7" font-size="12.8">2</text></g>
<g transform="translate(61.3,27.8) scale(1.033,1)"><path transform="translate(-24.92,0) scale(0.01600)" d="M350,-709 L293,-709 C272,-625 215,-588 102,-574 L102,-507 L262,-507 L262,0 L350,0 Z"/><text x="-16.02" y="0" font-size="16">0</text><text x="-7.12" y="-7.7" font-size="12.8">4</text></g>
<g transform="translate(71.2,281.3) scale(1.033,1)"><path transform="translate(-18.15,0) scale(0.01600)" d="M350,-709 L293,-709 C272,-625 215,-588 102,-574 L102,-507 L262,-507 L262,0 L350,0 Z"/><text x="-9.25" y="0" font-size="16">0</text><text x="-0.35" y="-7.7" font-size="12.8">-</text><path transform="translate(3.91,-7.7) scale(0.01280)" d="M350,-709 L293,-709 C272,-625 215,-588 102,-574 L102,-507 L262,-507 L262,0 L350,0 Z"/><text x="11.03" y="-7.7" font-size="12.8">6</text></g>
<g transform="translate(123.4,281.3) scale(1.033,1)"><path transform="translate(-18.15,0) scale(0.01600)" d="M350,-709 L293,-709 C272,-625 215,-588 102,-574 L102,-507 L262,-507 L262,0 L350,0 Z"/><text x="-9.25" y="0" font-size="16">0</text><text x="-0.35" y="-7.7" font-size="12.8">-</text><path transform="translate(3.91,-7.7) scale(0.01280)" d="M350,-709 L293,-709 C272,-625 215,-588 102,-574 L102,-507 L262,-507 L262,0 L350,0 Z"/><text x="11.03" y="-7.7" font-size="12.8">4</text></g>
<g transform="translate(175.6,281.3) scale(1.033,1)"><path transform="translate(-18.15,0) scale(0.01600)" d="M350,-709 L293,-709 C272,-625 215,-588 102,-574 L102,-507 L262,-507 L262,0 L350,0 Z"/><text x="-9.25" y="0" font-size="16">0</text><text x="-0.35" y="-7.7" font-size="12.8">-</text><path transform="translate(3.91,-7.7) scale(0.01280)" d="M350,-709 L293,-709 C272,-625 215,-588 102,-574 L102,-507 L262,-507 L262,0 L350,0 Z"/><text x="11.03" y="-7.7" font-size="12.8">2</text></g>
<g transform="translate(227.8,281.3) scale(1.033,1)"><path transform="translate(-18.15,0) scale(0.01600)" d="M350,-709 L293,-709 C272,-625 215,-588 102,-574 L102,-507 L262,-507 L262,0 L350,0 Z"/><text x="-9.25" y="0" font-size="16">0</text><text x="-0.35" y="-7.7" font-size="12.8">-</text><path transform="translate(3.91,-7.7) scale(0.01280)" d="M350,-709 L293,-709 C272,-625 215,-588 102,-574 L102,-507 L262,-507 L262,0 L350,0 Z"/><text x="11.03" y="-7.7" font-size="12.8">0</text></g>
<g transform="translate(279.9,281.3) scale(1.033,1)"><path transform="translate(-14.59,0) scale(0.01600)" d="M350,-709 L293,-709 C272,-625 215,-588 102,-574 L102,-507 L262,-507 L262,0 L350,0 Z"/><text x="-5.69" y="0" font-size="16">0</text><text x="3.21" y="-7.7" font-size="12.8">-8</text></g>
<g transform="translate(332.1,281.3) scale(1.033,1)"><path transform="translate(-14.59,0) scale(0.01600)" d="M350,-709 L293,-709 C272,-625 215,-588 102,-574 L102,-507 L262,-507 L262,0 L350,0 Z"/><text x="-5.69" y="0" font-size="16">0</text><text x="3.21" y="-7.7" font-size="12.8">-6</text></g>
<g transform="translate(384.3,281.3) scale(1.033,1)"><path transform="translate(-14.59,0) scale(0.01600)" d="M350,-709 L293,-709 C272,-625 215,-588 102,-574 L102,-507 L262,-507 L262,0 L350,0 Z"/><text x="-5.69" y="0" font-size="16">0</text><text x="3.21" y="-7.7" font-size="12.8">-4</text></g>
<g transform="translate(436.5,281.3) scale(1.033,1)"><path transform="translate(-14.59,0) scale(0.01600)" d="M350,-709 L293,-709 C272,-625 215,-588 102,-574 L102,-507 L262,-507 L262,0 L350,0 Z"/><text x="-5.69" y="0" font-size="16">0</text><text x="3.21" y="-7.7" font-size="12.8">-2</text></g>
<text transform="translate(253.0,302.6) scale(1.033,1)" text-anchor="middle">(<tspan font-family="Liberation Serif, serif" font-size="18.5">ν</tspan>/M)*M<tspan font-size="12.8" dy="4.6">solar</tspan></text>
<text font-size="18.5" transform="translate(18.5,181.0) rotate(-90) scale(1.0,1)" font-family="Liberation Serif, sans-serif">ν</text>
<text font-size="13.5" transform="translate(15.3,168.2) rotate(-90) scale(1.0,1)" font-family="Liberation Sans, sans-serif">*</text>
<text transform="translate(19.2,157.2) rotate(-90) scale(1.0,1)" font-family="Liberation Serif, sans-serif">Δ</text>
<text transform="translate(19.2,146.3) rotate(-90) scale(1.0,1)" font-family="Liberation Serif, sans-serif">Φ</text>
<text transform="translate(18.5,130.4) rotate(-90) scale(1.05,1)" font-family="Liberation Sans, sans-serif">[rad]</text>
</g>
</svg>
</body></html>
